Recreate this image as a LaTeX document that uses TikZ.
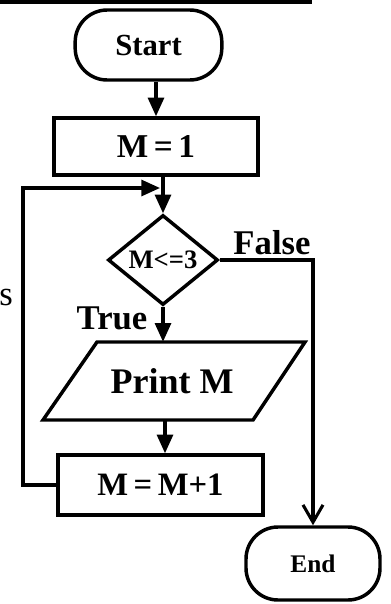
\documentclass[tikz,border=0pt]{standalone}
\usepackage{fontspec}
\setmainfont{Liberation Serif}
\usetikzlibrary{arrows.meta,shapes.geometric}
\begin{document}
\begin{tikzpicture}[x=0.75pt,y=-0.75pt,
  every node/.style={font=\bfseries},
  arr/.style={line width=2.3pt, -{Triangle[length=14pt,width=12pt]}},
  arropen/.style={line width=2.3pt, -{Straight Barb[length=13pt,width=15pt,line width=2.3pt]}},
  boxst/.style={draw, line width=2.6pt, rectangle, inner sep=0pt},
  term/.style={draw, line width=2.6pt, rectangle, rounded corners=24pt, inner sep=0pt}]
\useasboundingbox (0,0) rectangle (390,604);
\fill[white] (0,0) rectangle (390,604);
\draw[line width=3pt] (0,2) -- (312,2);
\node[term, minimum width=110pt, minimum height=52.5pt, font=\bfseries\fontsize{23}{26}\selectfont] (start) at (148.5,45) {Start};
\node[boxst, minimum width=153pt, minimum height=42.75pt, font=\bfseries\fontsize{25}{28}\selectfont] (m1) at (156,146.5) {M\,=\,1};
\node[diamond, draw, line width=2.6pt, inner sep=0pt, minimum width=82.5pt, minimum height=67.5pt, font=\bfseries\fontsize{20}{22}\selectfont] (d) at (163,260) {M<=3};
\node[inner sep=0pt, minimum width=150pt, minimum height=58.5pt, font=\bfseries\fontsize{27}{30}\selectfont] (p) at (172,381) {Print M};
\draw[line width=2.6pt, line join=miter] (97,342) -- (305,342) -- (253,420) -- (43,420) -- cycle;
\node[boxst, minimum width=153.75pt, minimum height=45pt, font=\bfseries\fontsize{24.5}{28}\selectfont] (inc) at (160.5,485) {M\,=\,M+1};
\node[term, minimum width=100.5pt, minimum height=54.75pt, font=\bfseries\fontsize{19}{22}\selectfont] (end) at (313,563.5) {End};
\node[font=\bfseries\fontsize{26}{30}\selectfont] (lf) at (272,243) {False};
\node[font=\bfseries\fontsize{26}{30}\selectfont] (lt) at (112,318) {True};
\node[font=\fontsize{26}{30}\selectfont, inner sep=0pt] (ls) at (6,297) {s};
\coordinate (loopx) at (23,188);
\coordinate (j) at (160,188);
\draw[arr] (start.south -| m1.north) -- (m1.north);
\draw[arr] (m1.south -| d.north) -- (d.north);
\draw[arr] (inc.west) -| (loopx) -- (j);
\draw[arropen] (d.east) -| (end.north);
\draw[arr] (d.south) -- (d.south |- p.north);
\draw[arr] (p.south -| 165,0) -- (inc.north -| 165,0);
\end{tikzpicture}
\end{document}
